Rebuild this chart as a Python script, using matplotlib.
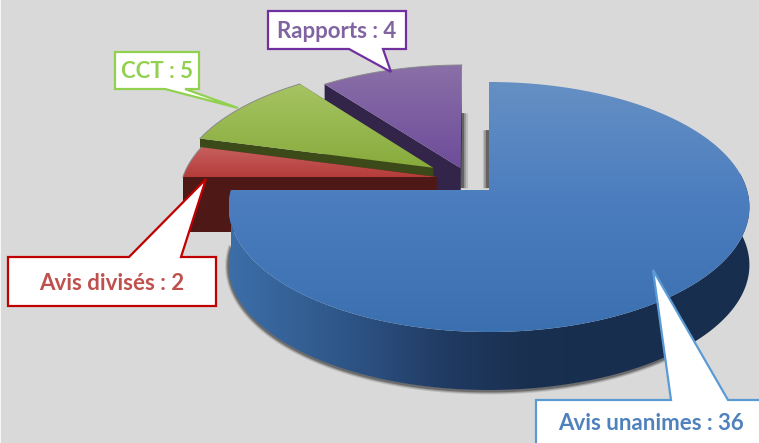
import numpy as np
import matplotlib
matplotlib.use('Agg')
import matplotlib.pyplot as plt
from matplotlib.colors import LinearSegmentedColormap
from matplotlib.patches import Polygon

labels = ['Avis unanimes : 36', 'Avis divisés : 2', 'CCT : 5', 'Rapports : 4']
# sweep of each slice as drawn in the picture, degrees, clockwise from 12 o'clock
spans = [270, 15, 37.5, 37]
offsets = [(0, 0), (-0.204, 0.1075), (-0.222, 0.186), (-0.113, 0.183)]
top_cols = [['#6590c4', '#4a7cbe', '#3b70b0'], ['#c6605e', '#b53c39'], ['#a6c463', '#88ab3c'], ['#8a70a8', '#6e4c9a']]
text_cols = ['#4f81bd', '#c0504d', '#92d050', '#8064a2']
box_cols = ['#5b9bd5', '#c00000', '#92d050', '#7030a0']
side_cols = [None, '#4d1816', '#3c4a1a', '#33254a']

# perspective of the pie plane, in pixels
x0, y0 = 489, 190
a, h, k = 258.0, 122.7, 0.136
depth = 58

fig = plt.figure(figsize=(7.59, 4.43), dpi=100)
ax = fig.add_axes([0, 0, 1, 1])
ax.add_patch(plt.Rectangle((1, 0), 758, 443, color='#d9d9d9', zorder=0))


def project(u, v):
    w = 1 + k * v
    return x0 + a * u / w, y0 - h * v / w


def arc(t1, t2, off):
    t = np.radians(np.linspace(t1, t2, 160))
    return project(np.cos(t) + off[0], np.sin(t) + off[1])


def fill_grad(xs, ys, cols, z, horizontal=False):
    poly = Polygon(np.column_stack([xs, ys]), closed=True, fc='none', ec='none', zorder=z)
    ax.add_patch(poly)
    cmap = LinearSegmentedColormap.from_list('g', cols)
    grad = np.linspace(0, 1, 256)
    grad = grad.reshape(1, -1) if horizontal else grad.reshape(-1, 1)
    im = ax.imshow(grad, cmap=cmap, aspect='auto', zorder=z,
                   extent=[min(xs), max(xs), max(ys), min(ys)])
    im.set_clip_path(poly)


def edge_shadow(x, y1, y2, z):
    # fades out to the left or right of the pie edge
    for lw, al in [(8, 0.12), (5.5, 0.2), (3, 0.35)]:
        ax.plot([x, x], [y1, y2], color='black', lw=lw, alpha=al, zorder=z, solid_capstyle='butt')


# slices go clockwise from the top; the small ones are drawn back to front
starts = 90 - np.cumsum([0] + spans[:-1])
ends = starts - np.array(spans)

z = 2
for i in [3, 2, 1]:
    off = offsets[i]
    ax_, ay_ = project(off[0], off[1])
    xs, ys = arc(starts[i], ends[i], off)
    # side walls
    ax.add_patch(Polygon([(ax_, ay_), (xs[-1], ys[-1]), (xs[-1], ys[-1] + depth - 3), (ax_, ay_ + depth - 3)],
                         fc=side_cols[i], ec='none', zorder=z))
    ax.add_patch(Polygon([(ax_, ay_), (xs[0], ys[0]), (xs[0], ys[0] + depth - 3), (ax_, ay_ + depth - 3)],
                         fc=side_cols[i], ec='none', zorder=z))
    if i == 3:
        edge_shadow(ax_ + 1, 113, 188, z - 0.5)
    fill_grad(np.r_[ax_, xs], np.r_[ay_, ys], top_cols[i], z + 0.1)
    ax.plot(xs, ys, color='#8a8a8a', lw=0.7, zorder=z + 0.2)
    z += 1

# big slice: shadow, wall, top
xs, ys = arc(90, -180, offsets[0])
wall_x, wall_y = arc(8, -180, offsets[0])
for lw, al in [(5, 0.12), (3.5, 0.18), (2, 0.3)]:
    ax.plot(wall_x[50:], wall_y[50:] + depth + 1, color='black', lw=lw, alpha=al, zorder=5)
edge_shadow(x0 - 1, 130, 188, 5)
fill_grad(np.r_[wall_x, wall_x[::-1]], np.r_[wall_y, wall_y[::-1] + depth],
          ['#3c6ea8', '#335f93', '#2a4d7c', '#1f3960', '#1a3051', '#182e4e', '#182e4e', '#182e4e'], 6, horizontal=True)
fill_grad(np.r_[x0, xs], np.r_[y0, ys], top_cols[0], 7)

# callouts: box corners and tail in pixels
boxes = [
    (536, 400, 790, 460, [(671, 400), (653, 270), (728, 400)], (651, 424)),
    (8, 257, 216, 306, [(129, 257), (206, 179), (181, 257)], (112, 284)),
    (115, 52, 199, 89, [(165, 89), (238, 108), (185, 89)], (157, 71)),
    (268, 11, 406, 49, [(349, 49), (391, 72), (383, 49)], (337, 31)),
]
for i, (l, t, r, b, tail, c) in enumerate(boxes):
    if tail[0][1] == t:
        pts = [(l, t), tail[0], tail[1], tail[2], (r, t), (r, b), (l, b)]
    else:
        pts = [(l, t), (r, t), (r, b), tail[2], tail[1], tail[0], (l, b)]
    ax.add_patch(Polygon(pts, closed=True, fc='white', ec=box_cols[i], lw=1.6, zorder=10, joinstyle='miter'))
    ax.text(c[0], c[1], labels[i], color=text_cols[i], family='Lato', weight='bold', fontsize=16,
            ha='center', va='center', zorder=11)

ax.set_xlim(0, 759)
ax.set_ylim(443, 0)
ax.axis('off')
fig.savefig('out.png', dpi=100)
